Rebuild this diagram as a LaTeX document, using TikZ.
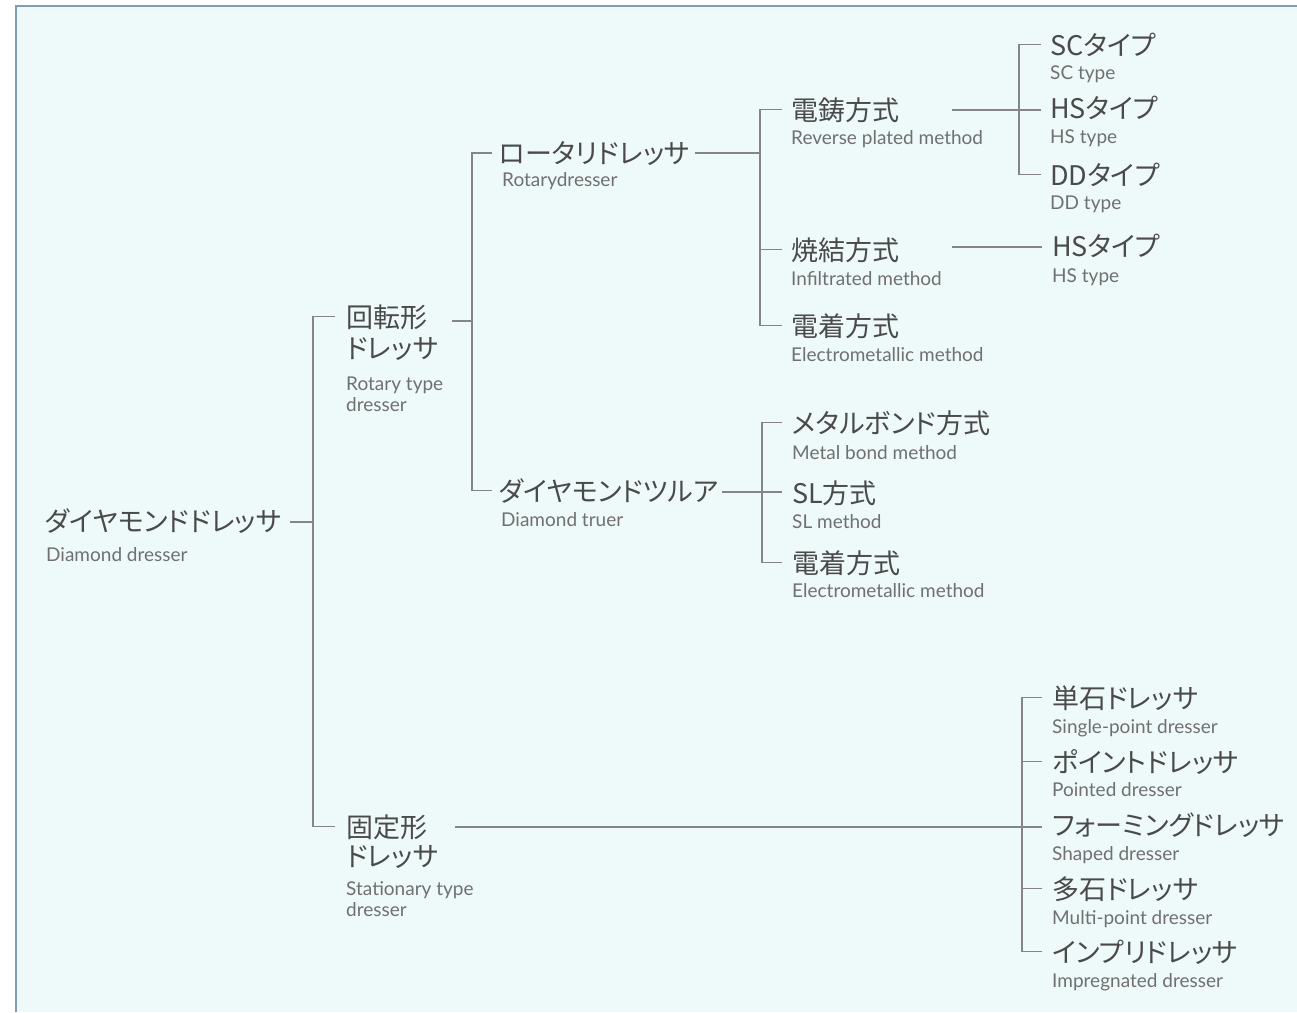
\documentclass[tikz,border=0pt]{standalone}
\usepackage{fontspec}
\setmainfont{Lato}
\newfontfamily\jp[RawFeature=+palt]{Noto Sans CJK JP}
\definecolor{bgc}{HTML}{EEF9F9}
\definecolor{frame}{HTML}{7E9DB4}
\definecolor{jc}{HTML}{4A4A4A}
\definecolor{ec}{HTML}{707070}
\definecolor{lc}{HTML}{858585}
\tikzset{
  jt/.style={anchor=base west, inner sep=0pt, font=\jp\fontsize{27}{29}\selectfont, text=jc},
  et/.style={anchor=base west, inner sep=0pt, font=\fontsize{19}{21}\selectfont, text=ec},
  conn/.style={draw=lc, line width=1.1pt},
}
\begin{document}
\begin{tikzpicture}[x=1pt,y=-1pt]
\useasboundingbox (0,0) rectangle (1297,1012);
\fill[white] (0,0) rectangle (1297,1012);
\fill[bgc] (16,6) rectangle (1297,1012);
\draw[frame, line width=1.6pt] (16,1012) -- (16,6) -- (1297,6);

% ---- texts ----
\node[jt] (rootJ) at (45,531) {ダイヤモンドドレッサ};
\node[et] (rootE) at (46,561) {Diamond dresser};

\node[jt] (rotJ) at (346,327) {回転形};
\node[jt] (rotJ2) at (346,358) {ドレッサ};
\node[et] (rotE) at (346,390) {Rotary type};
\node[et] (rotE2) at (346,411) {dresser};

\node[jt] (staJ) at (346,837) {固定形};
\node[jt] (staJ2) at (346,866) {ドレッサ};
\node[et] (staE) at (346,895) {Stationary type};
\node[et] (staE2) at (346,916) {dresser};

\node[jt] (rdJ) at (499,163) {ロータリドレッサ};
\node[et] (rdE) at (502,186) {Rotarydresser};

\node[jt] (dtJ) at (499,501) {ダイヤモンドツルア};
\node[et] (dtE) at (501,526) {Diamond truer};

\node[jt] (edJ) at (791,120) {電鋳方式};
\node[et] (edE) at (791,144) {Reverse plated method};
\node[jt] (skJ) at (791,260) {焼結方式};
\node[et] (skE) at (791,285) {Infiltrated method};
\node[jt] (ecaJ) at (791,336) {電着方式};
\node[et] (ecaE) at (791,361) {Electrometallic method};

\node[jt] (mbJ) at (792,433) {メタルボンド方式};
\node[et] (mbE) at (792,459) {Metal bond method};
\node[jt] (slJ) at (792,503) {SL方式};
\node[et] (slE) at (792,528) {SL method};
\node[jt] (ecbJ) at (792,573) {電着方式};
\node[et] (ecbE) at (792,597) {Electrometallic method};

\node[jt] (scJ) at (1050,55) {SCタイプ};
\node[et] (scE) at (1050,79) {SC type};
\node[jt] (hsaJ) at (1050,118) {HSタイプ};
\node[et] (hsaE) at (1050,143) {HS type};
\node[jt] (ddJ) at (1050,185) {DDタイプ};
\node[et] (ddE) at (1050,209) {DD type};
\node[jt] (hsbJ) at (1052,256) {HSタイプ};
\node[et] (hsbE) at (1052,282) {HS type};

\node[jt] (tanJ) at (1052,708) {単石ドレッサ};
\node[et] (tanE) at (1052,733) {Single-point dresser};
\node[jt] (ptJ) at (1052,772) {ポイントドレッサ};
\node[et] (ptE) at (1052,796) {Pointed dresser};
\node[jt] (fmJ) at (1052,835) {フォーミングドレッサ};
\node[et] (fmE) at (1052,860) {Shaped dresser};
\node[jt] (taJ) at (1052,899) {多石ドレッサ};
\node[et] (taE) at (1052,924) {Multi-point dresser};
\node[jt] (imJ) at (1052,962) {インプリドレッサ};
\node[et] (imE) at (1052,987) {Impregnated dresser};

% ---- branch points ----
\coordinate (s1) at (290,522);  \coordinate (b1) at (313,0);
\coordinate (s2) at (452,321);  \coordinate (b2) at (472,0);
\coordinate (s3) at (695,153);  \coordinate (b3) at (760,0);
\coordinate (s4) at (952,110);  \coordinate (b4) at (1019,0);
\coordinate (s5) at (952,247);
\coordinate (s6) at (722,492);  \coordinate (b6) at (762,0);
\coordinate (s7) at (455,827);  \coordinate (b7) at (1022,0);

% ---- connectors ----
\draw[conn] (s1) -- (b1 |- s1);
\draw[conn] ([xshift=-11pt]rotJ.west) -- (b1 |- rotJ.west) -- (b1 |- staJ.west) -- ([xshift=-11pt]staJ.west);
\draw[conn] (s2) -- (b2 |- s2);
\draw[conn] ([xshift=-7pt]rdJ.west) -- (b2 |- rdJ.west) -- (b2 |- dtJ.west) -- ([xshift=-7pt]dtJ.west);
\draw[conn] (s3) -- (b3 |- s3);
\draw[conn] ([xshift=-9pt]edJ.west) -- (b3 |- edJ.west) -- (b3 |- ecaJ.west) -- ([xshift=-9pt]ecaJ.west);
\draw[conn] (b3 |- skJ.west) -- ([xshift=-9pt]skJ.west);
\draw[conn] (s4) -- ([xshift=-9pt]hsaJ.west |- s4);
\draw[conn] ([xshift=-9pt]scJ.west) -- (b4 |- scJ.west) -- (b4 |- ddJ.west) -- ([xshift=-9pt]ddJ.west);
\draw[conn] (s5) -- ([xshift=-10pt]hsbJ.west |- s5);
\draw[conn] (s6) -- ([xshift=-10pt]slJ.west |- s6);
\draw[conn] ([xshift=-10pt]mbJ.west) -- (b6 |- mbJ.west) -- (b6 |- ecbJ.west) -- ([xshift=-10pt]ecbJ.west);
\draw[conn] (s7) -- ([xshift=-10pt]fmJ.west |- s7);
\draw[conn] ([xshift=-10pt]tanJ.west) -- (b7 |- tanJ.west) -- (b7 |- imJ.west) -- ([xshift=-10pt]imJ.west);
\draw[conn] (b7 |- ptJ.west) -- ([xshift=-10pt]ptJ.west);
\draw[conn] (b7 |- taJ.west) -- ([xshift=-10pt]taJ.west);
\end{tikzpicture}
\end{document}
